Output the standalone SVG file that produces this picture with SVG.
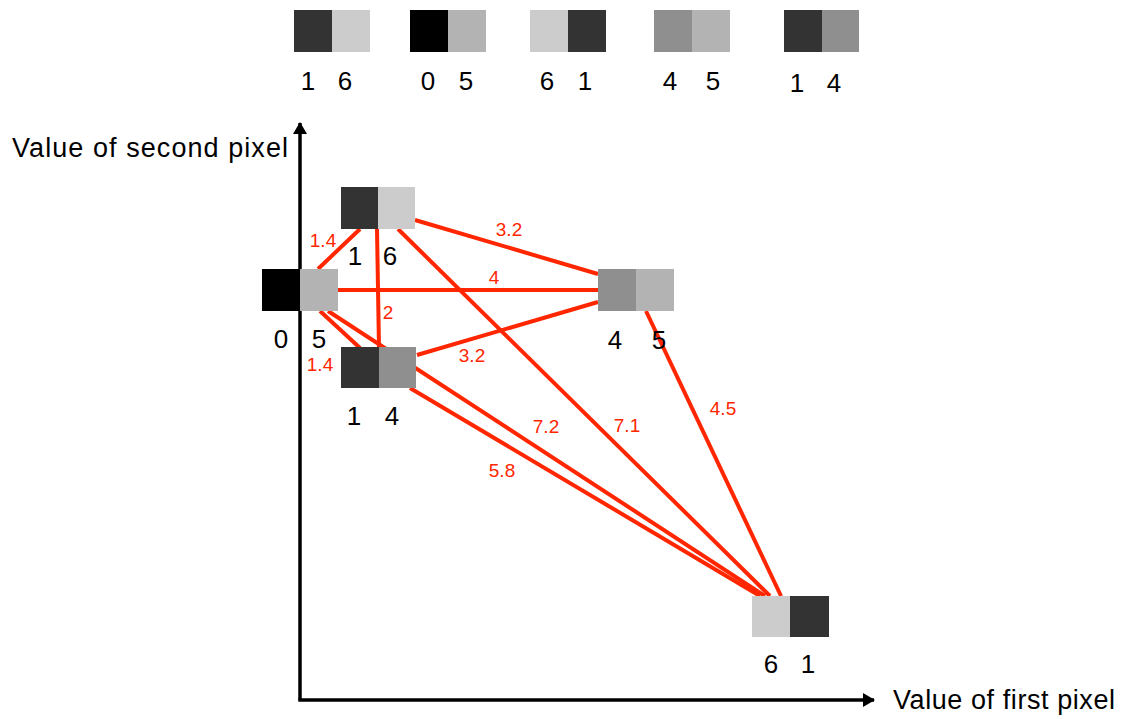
<svg xmlns="http://www.w3.org/2000/svg" width="1134" height="719" viewBox="0 0 1134 719">
<defs>
<style>
.c1{fill:#333333}
.c6{fill:#cccccc}
.c0{fill:#000000}
.c5{fill:#b3b3b3}
.c4{fill:#8f8f8f}
.dig{font-family:"Liberation Sans",Arial,sans-serif;font-size:26px;fill:#000;text-anchor:middle}
.ax{font-family:"Liberation Sans",Arial,sans-serif;font-size:27px;fill:#000}
.edge{stroke:#ff2600;stroke-width:4;fill:none;stroke-linecap:butt}
.el{font-family:"Liberation Sans",Arial,sans-serif;font-size:19px;fill:#ff2600;text-anchor:middle}
.axis{stroke:#000;stroke-width:3.5;fill:none}
</style>
<marker id="arr" viewBox="0 0 12 14" refX="11" refY="7" markerWidth="12" markerHeight="14" markerUnits="userSpaceOnUse" orient="auto">
<path d="M0,0 L12,7 L0,14 Z" fill="#000"/>
</marker>
</defs>
<rect width="1134" height="719" fill="#fff"/>

<g id="legend">
<g id="legend-16">
<rect class="c1" x="294" y="10" width="38" height="42"/><rect class="c6" x="332" y="10" width="38" height="42"/>
<text class="dig" x="308" y="90">1</text><text class="dig" x="345" y="90">6</text>
</g>
<g id="legend-05">
<rect class="c0" x="410" y="10" width="38" height="42"/><rect class="c5" x="448" y="10" width="38" height="42"/>
<text class="dig" x="428" y="90">0</text><text class="dig" x="466" y="90">5</text>
</g>
<g id="legend-61">
<rect class="c6" x="530" y="10" width="38" height="42"/><rect class="c1" x="568" y="10" width="38" height="42"/>
<text class="dig" x="547" y="90">6</text><text class="dig" x="585" y="90">1</text>
</g>
<g id="legend-45">
<rect class="c4" x="654" y="10" width="38" height="42"/><rect class="c5" x="692" y="10" width="38" height="42"/>
<text class="dig" x="670" y="90">4</text><text class="dig" x="713" y="90">5</text>
</g>
<g id="legend-14">
<rect class="c1" x="784" y="10" width="38" height="42"/><rect class="c4" x="822" y="10" width="37" height="42"/>
<text class="dig" x="797" y="92">1</text><text class="dig" x="834" y="92">4</text>
</g>
</g>

<g id="axes">
<line class="axis" x1="300" y1="700" x2="300" y2="123" marker-end="url(#arr)"/>
<line class="axis" x1="298.25" y1="700" x2="874" y2="700" marker-end="url(#arr)"/>
<text class="ax" x="12" y="157" textLength="276" lengthAdjust="spacing">Value of second pixel</text>
<text class="ax" x="893" y="709" font-size="26" textLength="222" lengthAdjust="spacing">Value of first pixel</text>
</g>

<g id="connectors">
<line class="edge" x1="360" y1="229" x2="318" y2="269"/>
<line class="edge" x1="377" y1="229" x2="379" y2="348"/>
<line class="edge" x1="415" y1="220" x2="598" y2="274"/>
<line class="edge" x1="338" y1="290" x2="598" y2="290"/>
<line class="edge" x1="417" y1="355" x2="598" y2="302"/>
<line class="edge" x1="320" y1="311" x2="360" y2="348"/>
<line class="edge" x1="398" y1="229" x2="770" y2="596"/>
<line class="edge" x1="328" y1="311" x2="765" y2="596"/>
<line class="edge" x1="410" y1="388" x2="760" y2="596"/>
<line class="edge" x1="646" y1="311" x2="781" y2="596"/>
<text class="el" x="323" y="247">1.4</text>
<text class="el" x="320" y="371">1.4</text>
<text class="el" x="388" y="319">2</text>
<text class="el" x="509" y="236">3.2</text>
<text class="el" x="494" y="284">4</text>
<text class="el" x="472" y="362">3.2</text>
<text class="el" x="546" y="433">7.2</text>
<text class="el" x="627" y="432">7.1</text>
<text class="el" x="502" y="477">5.8</text>
<text class="el" x="723" y="415">4.5</text>
</g>

<g id="node-16">
<rect class="c1" x="341" y="187" width="37" height="42"/><rect class="c6" x="378" y="187" width="37" height="42"/>
<text class="dig" x="355" y="265">1</text><text class="dig" x="390" y="265">6</text>
</g>
<g id="node-05">
<rect class="c0" x="262" y="269" width="38" height="42"/><rect class="c5" x="300" y="269" width="38" height="42"/>
<text class="dig" x="281" y="348">0</text><text class="dig" x="319" y="348">5</text>
</g>
<g id="node-14">
<rect class="c1" x="341" y="347" width="38" height="41"/><rect class="c4" x="379" y="347" width="37" height="41"/>
<text class="dig" x="354" y="425">1</text><text class="dig" x="392" y="425">4</text>
</g>
<g id="node-45">
<rect class="c4" x="598" y="269" width="38" height="42"/><rect class="c5" x="636" y="269" width="38" height="42"/>
<text class="dig" x="615" y="349">4</text><text class="dig" x="659" y="349">5</text>
</g>
<g id="node-61">
<rect class="c6" x="752" y="596" width="38" height="41"/><rect class="c1" x="790" y="596" width="39" height="41"/>
<text class="dig" x="771" y="673">6</text><text class="dig" x="808" y="673">1</text>
</g>
</svg>
